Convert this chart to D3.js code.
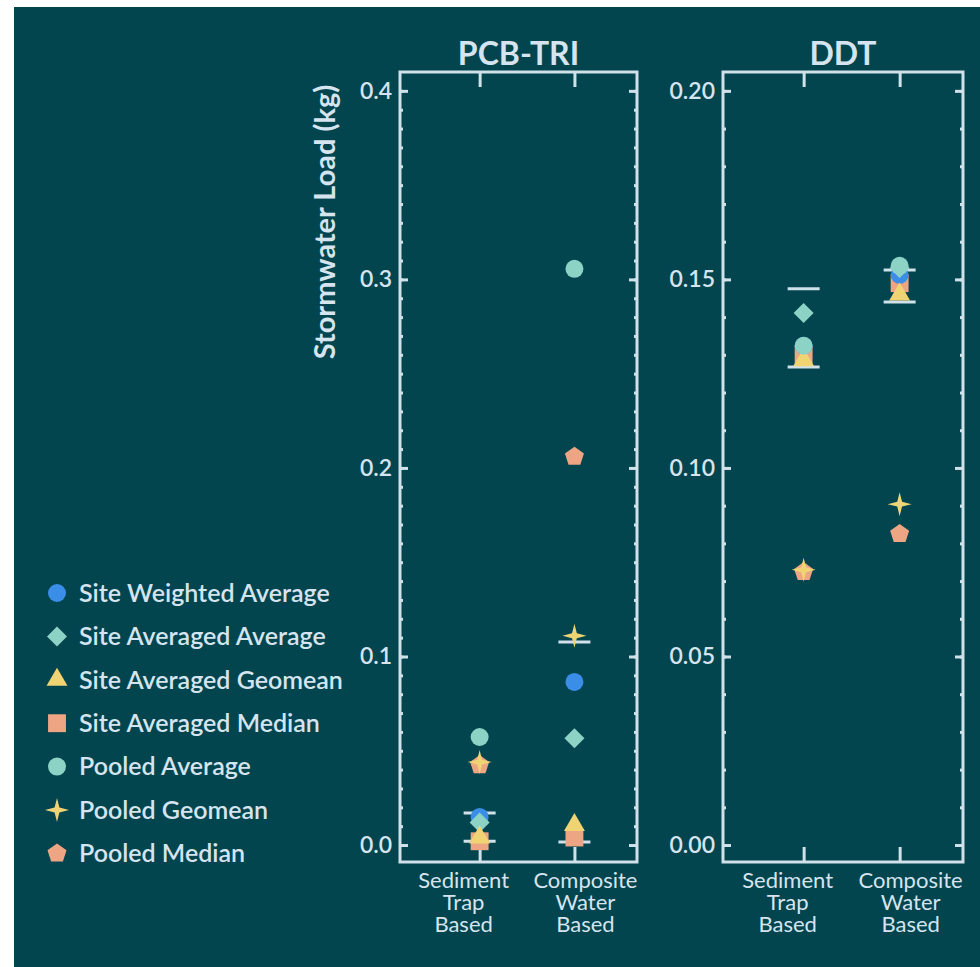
<!DOCTYPE html>
<html>
<head>
<meta charset="utf-8">
<script src="https://cdn.jsdelivr.net/npm/d3@7"></script>
<style>
  html, body { margin: 0; padding: 0; background: #ffffff; }
  svg { display: block; }
  text { font-family: Lato, "Open Sans", sans-serif; fill: #d5e4ee; }
</style>
</head>
<body>
<svg id="chart" width="980" height="967"></svg>
<script>
// ---- data ---------------------------------------------------------------
const categories = ["Sediment Trap Based", "Composite Water Based"];
const categoryLines = [["Sediment", "Trap", "Based"], ["Composite", "Water", "Based"]];

const seriesNames = [
  "Site Weighted Average",
  "Site Averaged Average",
  "Site Averaged Geomean",
  "Site Averaged Median",
  "Pooled Average",
  "Pooled Geomean",
  "Pooled Median"
];

// stormwater load (kg); one row per series, one column per category
const pcbTriValues = [
  [0.0149, 0.0865],
  [0.0120, 0.0567],
  [0.0040, 0.0106],
  [0.0020, 0.0040],
  [0.0573, 0.3056],
  [0.0440, 0.1110],
  [0.0424, 0.2060]
];
const ddtValues = [
  [0.1324, 0.1512],
  [0.1411, 0.1530],
  [0.1286, 0.1460],
  [0.1300, 0.1490],
  [0.1324, 0.1536],
  [0.0730, 0.0904],
  [0.0724, 0.0825]
];

// low / high range markers per category
const pcbTriRange = [[0.0020, 0.0170], [0.0016, 0.1077]];
const ddtRange = [[0.1268, 0.1475], [0.1440, 0.1525]];

const pcbTriTicks = [0, 0.1, 0.2, 0.3, 0.4];
const ddtTicks = [0, 0.05, 0.10, 0.15, 0.20];

// ---- styling --------------------------------------------------------------
const BG = "#02454f";
const FG = "#d0e1ea";
const colors = ["#3a8ee8", "#8dd3c5", "#f0d474", "#eea584", "#8dd3c5", "#f0d474", "#eea584"];

// four-pointed star and pentagon as d3 symbol types
const symbolStar4 = {
  draw(ctx, size) {
    const r = Math.sqrt(size) * 0.95;
    const w = r * 0.2;
    ctx.moveTo(0, -r);
    ctx.lineTo(w, -w);
    ctx.lineTo(r, 0);
    ctx.lineTo(w, w);
    ctx.lineTo(0, r);
    ctx.lineTo(-w, w);
    ctx.lineTo(-r, 0);
    ctx.lineTo(-w, -w);
    ctx.closePath();
  }
};
const symbolPentagon = {
  draw(ctx, size) {
    const r = Math.sqrt(size) * 0.62;
    for (let i = 0; i < 5; i++) {
      const a = -Math.PI / 2 + i * 2 * Math.PI / 5;
      const px = r * Math.cos(a), py = r * Math.sin(a);
      if (i === 0) ctx.moveTo(px, py); else ctx.lineTo(px, py);
    }
    ctx.closePath();
  }
};

const symbols = [
  { type: d3.symbolCircle, size: 254, rotate: 0 },
  { type: d3.symbolSquare, size: 200, rotate: 45 },
  { type: d3.symbolTriangle, size: 190, rotate: 0 },
  { type: d3.symbolSquare, size: 320, rotate: 0 },
  { type: d3.symbolCircle, size: 254, rotate: 0 },
  { type: symbolStar4, size: 160, rotate: 0 },
  { type: symbolPentagon, size: 260, rotate: 0 }
];
// stacking order of the markers, back to front
const drawOrder = [3, 6, 0, 1, 2, 5, 4];

const svg = d3.select("#chart");

svg.append("rect")
  .attr("x", 14).attr("y", 7)
  .attr("width", 980 - 14).attr("height", 967 - 7)
  .attr("fill", BG);

const frameTop = 72, frameBottom = 862;

function drawPanel(opts) {
  const { left, right, title, values, range, ticks, yMin, yMax, fmt, minorStep } = opts;
  const g = svg.append("g");

  const x = d3.scaleLinear().domain([-0.84, 1.66]).range([left, right]);
  const y = d3.scaleLinear().domain([yMin, yMax]).range([frameBottom, frameTop]);

  const minor = d3.range(0, ticks[ticks.length - 1] + minorStep / 2, minorStep);

  // minor ticks, both sides, pointing inward
  g.append("g").attr("transform", `translate(${left},0)`)
    .call(d3.axisLeft(y).tickValues(minor).tickSize(-3).tickFormat(""));
  g.append("g").attr("transform", `translate(${right},0)`)
    .call(d3.axisRight(y).tickValues(minor).tickSize(-3).tickFormat(""));

  // major ticks with labels on the left
  g.append("g").attr("class", "ylab").attr("transform", `translate(${left},0)`)
    .call(d3.axisLeft(y).tickValues(ticks).tickSize(-8).tickPadding(8).tickFormat(d3.format(fmt)));
  g.append("g").attr("transform", `translate(${right},0)`)
    .call(d3.axisRight(y).tickValues(ticks).tickSize(-8).tickFormat(""));

  // category ticks top and bottom
  g.append("g").attr("transform", `translate(0,${frameBottom})`)
    .call(d3.axisBottom(x).tickValues([0, 1]).tickSize(-15).tickFormat(""));
  g.append("g").attr("transform", `translate(0,${frameTop})`)
    .call(d3.axisTop(x).tickValues([0, 1]).tickSize(-15).tickFormat(""));

  g.selectAll(".domain").remove();
  g.selectAll(".tick line").attr("stroke", FG).attr("stroke-width", 3);
  g.selectAll(".ylab text")
    .attr("fill", "#d5e4ee")
    .style("font-family", "Lato, sans-serif")
    .style("font-size", "23px")
    .style("font-weight", "600");

  g.append("rect")
    .attr("x", left).attr("y", frameTop)
    .attr("width", right - left).attr("height", frameBottom - frameTop)
    .attr("fill", "none").attr("stroke", FG).attr("stroke-width", 3);

  // title
  g.append("text")
    .attr("x", (left + right) / 2).attr("y", 65)
    .attr("text-anchor", "middle")
    .style("font-size", "32px").style("font-weight", "700")
    .text(title);

  // category labels
  const labelShift = [-16, 11];
  categoryLines.forEach((lines, i) => {
    const t = g.append("text")
      .attr("text-anchor", "middle")
      .style("font-size", "22px").style("font-weight", "400");
    lines.forEach((ln, j) => {
      t.append("tspan")
        .attr("x", x(i) + labelShift[i])
        .attr("y", 888 + j * 22)
        .text(ln);
    });
  });

  // range caps
  range.forEach((r, i) => {
    r.forEach(v => {
      g.append("line")
        .attr("x1", x(i) - 16).attr("x2", x(i) + 16)
        .attr("y1", y(v)).attr("y2", y(v))
        .attr("stroke", FG).attr("stroke-width", 3);
    });
  });

  // markers
  drawOrder.forEach(s => {
    const sym = symbols[s];
    g.append("g").selectAll("path")
      .data(values[s])
      .join("path")
      .attr("d", d3.symbol().type(sym.type).size(sym.size))
      .attr("transform", (d, i) => `translate(${x(i)},${y(d)}) rotate(${sym.rotate})`)
      .attr("fill", colors[s]);
  });
}

drawPanel({
  left: 400, right: 637, title: "PCB-TRI",
  values: pcbTriValues, range: pcbTriRange, ticks: pcbTriTicks,
  yMin: -0.009, yMax: 0.41, fmt: ".1f", minorStep: 0.01
});
drawPanel({
  left: 723, right: 963, title: "DDT",
  values: ddtValues, range: ddtRange, ticks: ddtTicks,
  yMin: -0.0045, yMax: 0.205, fmt: ".2f", minorStep: 0.01
});

// y axis title
svg.append("text")
  .attr("transform", "translate(335,222) rotate(-90)")
  .attr("text-anchor", "middle")
  .style("font-size", "29px").style("font-weight", "700")
  .text("Stormwater Load (kg)");

// legend
const legend = svg.append("g");
seriesNames.forEach((name, i) => {
  const yy = 593 + i * 43.4;
  const sym = symbols[i];
  legend.append("path")
    .attr("d", d3.symbol().type(sym.type).size(sym.size))
    .attr("transform", `translate(57,${yy}) rotate(${sym.rotate})`)
    .attr("fill", colors[i]);
  legend.append("text")
    .attr("x", 79).attr("y", yy)
    .attr("dy", "0.35em")
    .style("font-size", "25px").style("font-weight", "600")
    .text(name);
});
</script>
</body>
</html>
